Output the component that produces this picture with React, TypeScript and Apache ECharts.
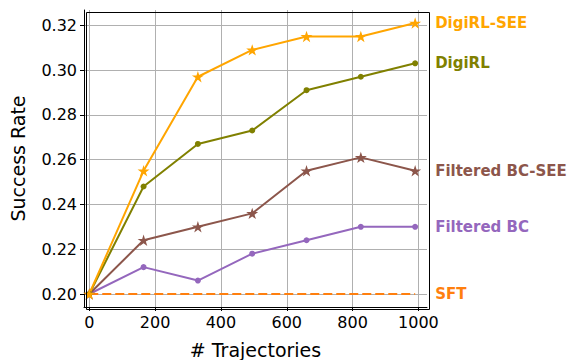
import React, { useEffect, useRef } from "react";
import * as echarts from "echarts";

const trajectories = [0, 165, 330, 495, 660, 825, 990];
const digirlSee = [0.2, 0.255, 0.297, 0.309, 0.315, 0.315, 0.321];
const digirl = [0.2, 0.248, 0.267, 0.273, 0.291, 0.297, 0.303];
const filteredBcSee = [0.2, 0.224, 0.23, 0.236, 0.255, 0.261, 0.255];
const filteredBc = [0.2, 0.212, 0.206, 0.218, 0.224, 0.23, 0.23];
const sft = [0.2, 0.2, 0.2, 0.2, 0.2, 0.2, 0.2];
const xTicks = [0, 200, 400, 600, 800, 1000];
const yTicks = [0.2, 0.22, 0.24, 0.26, 0.28, 0.3, 0.32];

const STAR =
  "path://M0,-10 L2.245,-3.09 L9.51,-3.09 L3.633,1.18 L5.878,8.09 L0,3.82 L-5.878,8.09 L-3.633,1.18 L-9.51,-3.09 L-2.245,-3.09 Z";

export default function App() {
  const ref = useRef<HTMLDivElement>(null);
  useEffect(() => {
    if (!ref.current) return;
    const chart = echarts.init(ref.current, undefined, { renderer: "svg" });
    const font = "DejaVu Sans";
    const mk = (
      name: string,
      values: number[],
      color: string,
      symbol: string,
      size: number,
      dashed = false,
      z = 2
    ) => ({
      name,
      type: "line",
      data: trajectories.map((x, i) => [x, values[i]]),
      symbol,
      symbolSize: size,
      symbolKeepAspect: true,
      showSymbol: symbol !== "none",
      z,
      lineStyle: { color, width: dashed ? 2.2 : 2, type: dashed ? [9, 4] : "solid" },
      itemStyle: { color, borderWidth: 0 },
      clip: false,
      endLabel: {
        show: true,
        formatter: name,
        color,
        fontFamily: font,
        fontWeight: "bold",
        fontSize: 15,
        distance: 20,
      },
    });
    chart.setOption({
      animation: false,
      textStyle: { fontFamily: font },
      grid: {
        left: 84,
        right: 142,
        top: 10,
        bottom: 53,
        containLabel: false,
        outerBoundsMode: "none",
      },
      xAxis: {
        type: "value",
        min: -16,
        max: 1026,
        name: "# Trajectories",
        nameLocation: "middle",
        nameGap: 33,
        nameTextStyle: { fontSize: 19, color: "#000", fontFamily: font },
        axisLine: { show: true, onZero: false, lineStyle: { color: "#000", width: 1 } },
        axisTick: { show: true, length: 4, lineStyle: { color: "#000" }, customValues: xTicks },
        axisLabel: {
          fontSize: 16,
          color: "#000",
          margin: 7,
          customValues: xTicks,
          fontFamily: font,
          formatter: (v: number) => String(v),
        },
        splitLine: { show: true, lineStyle: { color: "#b0b0b0", width: 1 } },
      },
      yAxis: {
        type: "value",
        min: 0.1942,
        max: 0.3268,
        name: "Success Rate",
        nameLocation: "middle",
        nameGap: 57,
        nameTextStyle: { fontSize: 19, color: "#000", fontFamily: font },
        axisLine: { show: true, onZero: false, lineStyle: { color: "#000", width: 1 } },
        axisTick: { show: true, length: 4, lineStyle: { color: "#000" }, customValues: yTicks },
        axisLabel: {
          fontSize: 16,
          color: "#000",
          margin: 7,
          customValues: yTicks,
          fontFamily: font,
          formatter: (v: number) => v.toFixed(2),
        },
        splitLine: { show: true, lineStyle: { color: "#b0b0b0", width: 1 } },
      },
      graphic: [
        {
          type: "rect",
          left: 84,
          top: 10,
          shape: { width: 343, height: 297 },
          style: { fill: "none", stroke: "#000", lineWidth: 1 },
          silent: true,
          z: 10,
        },
      ],
      series: [
        mk("SFT", sft, "#ff7f0e", "none", 0, true, 1),
        mk("Filtered BC", filteredBc, "#9467bd", "circle", 6),
        mk("Filtered BC-SEE", filteredBcSee, "#8c564b", STAR, 12),
        mk("DigiRL", digirl, "#808000", "circle", 6),
        mk("DigiRL-SEE", digirlSee, "#ffa500", STAR, 12),
      ],
    });
    return () => chart.dispose();
  }, []);
  return (
    <div
      ref={ref}
      style={{ position: "fixed", left: 0, top: 0, width: 569, height: 360, background: "#fff" }}
    />
  );
}
